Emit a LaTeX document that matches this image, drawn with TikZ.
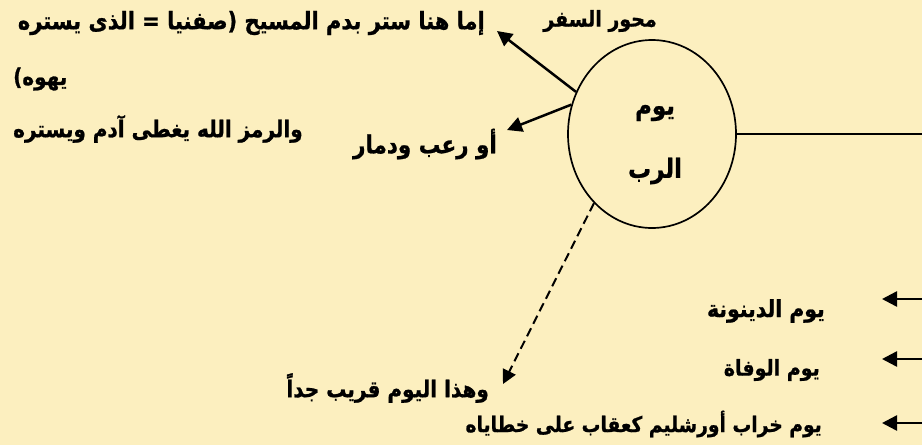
\documentclass[tikz,border=0pt]{standalone}
\usepackage{fontspec}
\usepackage{graphicx}
\newfontfamily\arabicfont[Script=Arabic, BoldFeatures={FakeBold=1}]{DejaVu Sans}
\TeXXeTstate=1
\usetikzlibrary{arrows.meta,shapes.geometric}
\definecolor{bg}{RGB}{252,239,191}
\newcommand{\fs}[1]{\fontsize{#1}{#1}\selectfont}
\newcommand{\artxt}[1]{\scalebox{1}[1.15]{\beginR #1\endR}}
\begin{document}
\begin{tikzpicture}[x=1pt,y=-1pt,
  lbl/.style={font=\arabicfont\bfseries\fs{20}, inner sep=0pt},
  arr/.style={line width=2.5pt, -{Triangle[width=15pt,length=15pt]}},
  darr/.style={line width=2pt, dash pattern=on 9pt off 5pt, -{Triangle[width=14pt,length=14pt]}}]
\fill[bg] (0,0) rectangle (922,445);
\useasboundingbox (0,0) rectangle (922,445);
% texts
\node[lbl, font=\arabicfont\bfseries\fs{21}, anchor=east] (t1) at (485,23) {\artxt{إما هنا ستر بدم المسيح (صفنيا = الذى يستره}};
\node[lbl, anchor=west] (t2) at (13,79) {\artxt{يهوه)}};
\node[lbl, anchor=west] (t3) at (13,129) {\artxt{والرمز الله يغطى آدم ويستره}};
\node[lbl, font=\arabicfont\bfseries\fs{21.5}, anchor=east] (t4) at (497,144) {\artxt{أو رعب ودمار}};
\node[lbl, font=\arabicfont\bfseries\fs{19}] (t5) at (600,21) {\artxt{محور السفر}};
% circle
\node[ellipse, draw, line width=1.7pt, minimum width=168pt, minimum height=188pt, inner sep=0pt] (c) at (652,134) {};
\node[lbl, font=\arabicfont\bfseries\fs{23}] (c1) at (655,113) {\artxt{يوم}};
\node[lbl, font=\arabicfont\bfseries\fs{23}] (c2) at (655,171) {\artxt{الرب}};
\coordinate (re) at (922,134);
\draw[line width=1.7pt] (c.east) -- (re);
% arrows from circle
\coordinate (a1) at (497,31);
\coordinate (a2) at (507,130);
\coordinate (a3) at (503,384);
\draw[arr] (c.151) -- (a1);
\draw[arr] (c.160) -- (a2);
\draw[darr] (c.230) -- (a3);
\node[lbl, anchor=east] (t6) at (489,388) {\artxt{وهذا اليوم قريب جداً}};
% right arrows
\coordinate (r1) at (922,299); \coordinate (e1) at (882,299);
\coordinate (r2) at (922,359); \coordinate (e2) at (882,359);
\coordinate (r3) at (922,423); \coordinate (e3) at (882,423);
\draw[arr] (r1) -- (e1);
\draw[arr] (r2) -- (e2);
\draw[arr] (r3) -- (e3);
\node[lbl, font=\arabicfont\bfseries\fs{20.4}, anchor=east] (t7) at (825,311) {\artxt{يوم الدينونة}};
\node[lbl, font=\arabicfont\bfseries\fs{19}, anchor=east] (t8) at (820,370) {\artxt{يوم الوفاة}};
\node[lbl, font=\arabicfont\bfseries\fs{18.7}, anchor=east] (t9) at (822,424) {\artxt{يوم خراب أورشليم كعقاب على خطاياه}};
\end{tikzpicture}
\end{document}
